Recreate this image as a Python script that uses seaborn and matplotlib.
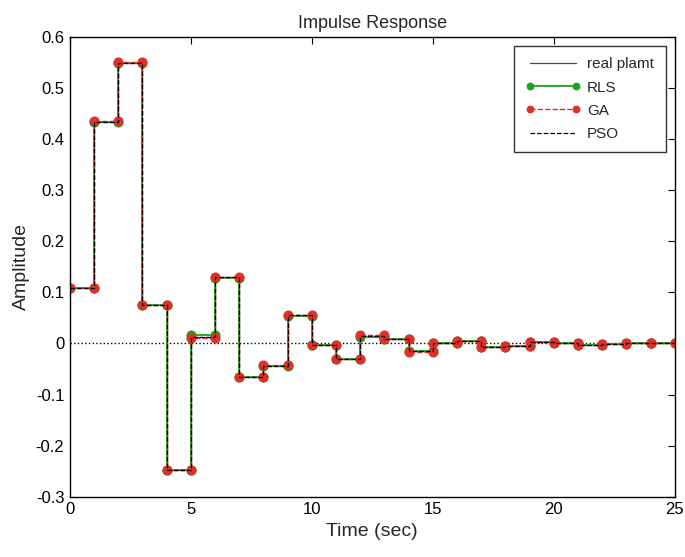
import numpy as np
import pandas as pd
import matplotlib
matplotlib.use("Agg")
import matplotlib.pyplot as plt
import seaborn as sns

# impulse response samples, k = 0..24 (held for 1 s each)
k = np.arange(25)
real_plant = [0.108, 0.434, 0.549, 0.075, -0.248, 0.013, 0.130, -0.065, -0.044, 0.055,
              -0.003, -0.030, 0.014, 0.008, -0.015, 0.000, 0.004, -0.006, -0.004, 0.002,
              0.001, -0.002, -0.001, 0.000, 0.000]
rls = [0.108, 0.433, 0.549, 0.075, -0.248, 0.016, 0.128, -0.065, -0.045, 0.054,
       -0.003, -0.030, 0.013, 0.008, -0.015, 0.000, 0.004, -0.006, -0.004, 0.002,
       0.001, -0.002, -0.001, 0.000, 0.000]
ga = [0.108, 0.435, 0.550, 0.075, -0.248, 0.010, 0.131, -0.065, -0.043, 0.055,
      -0.003, -0.030, 0.016, 0.008, -0.016, 0.000, 0.004, -0.007, -0.004, 0.002,
      0.001, -0.002, -0.001, 0.000, 0.000]
pso = [0.108, 0.434, 0.549, 0.075, -0.248, 0.012, 0.130, -0.065, -0.044, 0.055,
       -0.003, -0.030, 0.015, 0.008, -0.015, 0.000, 0.004, -0.006, -0.004, 0.002,
       0.001, -0.002, -0.001, 0.000, 0.000]


def stairs(vals):
    # each sample held from k to k+1, corners at both ends
    t = np.repeat(k, 2) + np.tile([0, 1], len(k))
    y = np.repeat(vals, 2)
    return pd.DataFrame({"t": t, "y": y})


sns.set_style("white")
plt.rcParams["font.family"] = ["Liberation Sans", "DejaVu Sans"]

fig = plt.figure(figsize=(6.85, 5.57), dpi=100)
ax = fig.add_axes([0.102, 0.108, 0.883, 0.826])

common = dict(x="t", y="y", sort=False, estimator=None, errorbar=None, ax=ax)
sns.lineplot(data=stairs(real_plant), color="#2b40a8", lw=0.9,
             label="real plamt", **common)
sns.lineplot(data=stairs(rls), color="#1aa31a", lw=1.3, marker="o", markersize=6.5,
             markeredgecolor="#1aa31a", label="RLS", **common)
sns.lineplot(data=stairs(ga), color="#e0302a", lw=1.0, ls="--", dashes=(3, 1.5),
             marker="o", markersize=6.5, markeredgecolor="#e0302a", label="GA", **common)
sns.lineplot(data=stairs(pso), color="black", lw=0.9, ls="--", dashes=(2.5, 1.2),
             label="PSO", **common)

ax.axhline(0, color="black", ls=":", lw=1.0, zorder=1)

ax.set_xlim(0, 25)
ax.set_ylim(-0.3, 0.6)
ax.set_xticks([0, 5, 10, 15, 20, 25])
ax.set_yticks(np.round(np.arange(-0.3, 0.61, 0.1), 1))
ax.set_yticklabels(["-0.3", "-0.2", "-0.1", "0", "0.1", "0.2", "0.3", "0.4", "0.5", "0.6"])
ax.tick_params(direction="in", top=True, right=True, length=5, width=0.8,
               labelsize=12, colors="black", pad=4)
for s in ax.spines.values():
    s.set_visible(True)
    s.set_color("black")
    s.set_linewidth(1.0)

ax.set_title("Impulse Response", fontsize=13, pad=6)
ax.set_xlabel("Time (sec)", fontsize=14)
ax.set_ylabel("Amplitude", fontsize=14)

leg = ax.legend(loc="upper right", fontsize=11, frameon=True, fancybox=False,
                edgecolor="black", handlelength=3.6, handletextpad=0.45,
                numpoints=2, markerscale=0.75, borderaxespad=0.6, borderpad=0.75,
                labelspacing=0.6)
leg.get_frame().set_linewidth(1.0)

fig.savefig("out.png", dpi=100)
